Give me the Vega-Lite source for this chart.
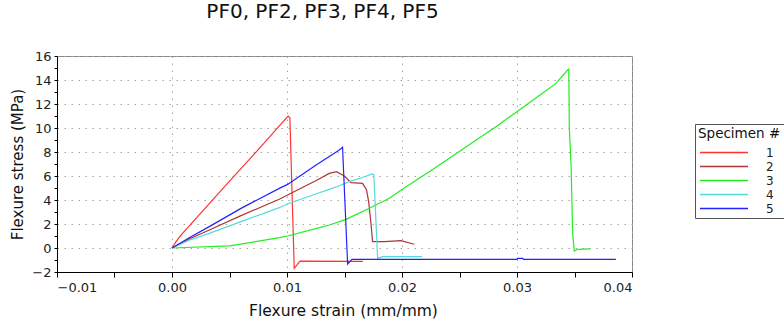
{
  "$schema": "https://vega.github.io/schema/vega-lite/v6.json",
  "width": 575,
  "height": 216,
  "autosize": {"type": "none"},
  "padding": {"left": 57, "top": 56, "right": 152, "bottom": 50},
  "background": "white",
  "title": {"text": "PF0, PF2, PF3, PF4, PF5", "fontSize": 20, "fontWeight": "normal", "font": "DejaVu Sans", "anchor": "middle", "frame": "group", "dx": -22, "offset": 28, "color": "#111"},
  "config": {
    "view": {"stroke": "#888", "strokeWidth": 1},
    "font": "DejaVu Sans"
  },
  "data": {"values": [
    {"s": "1", "i": 0, "x": 0, "y": 0},
    {"s": "1", "i": 1, "x": 0.00035, "y": 0.53},
    {"s": "1", "i": 2, "x": 0.00078, "y": 1.08},
    {"s": "1", "i": 3, "x": 0.0025, "y": 2.9},
    {"s": "1", "i": 4, "x": 0.0051, "y": 5.67},
    {"s": "1", "i": 5, "x": 0.0075, "y": 8.2},
    {"s": "1", "i": 6, "x": 0.01009, "y": 11.0},
    {"s": "1", "i": 7, "x": 0.01025, "y": 10.85},
    {"s": "1", "i": 8, "x": 0.01063, "y": -1.7},
    {"s": "1", "i": 9, "x": 0.01113, "y": -1.1},
    {"s": "1", "i": 10, "x": 0.0166, "y": -1.12},
    {"s": "2", "i": 0, "x": 0, "y": 0},
    {"s": "2", "i": 1, "x": 0.0015, "y": 0.75},
    {"s": "2", "i": 2, "x": 0.00324, "y": 1.5},
    {"s": "2", "i": 3, "x": 0.006, "y": 2.7},
    {"s": "2", "i": 4, "x": 0.00933, "y": 4.06},
    {"s": "2", "i": 5, "x": 0.01005, "y": 4.42},
    {"s": "2", "i": 6, "x": 0.0125, "y": 5.6},
    {"s": "2", "i": 7, "x": 0.01368, "y": 6.22},
    {"s": "2", "i": 8, "x": 0.01431, "y": 6.36},
    {"s": "2", "i": 9, "x": 0.01498, "y": 6.0},
    {"s": "2", "i": 10, "x": 0.01557, "y": 5.44},
    {"s": "2", "i": 11, "x": 0.01657, "y": 5.39},
    {"s": "2", "i": 12, "x": 0.01692, "y": 4.83},
    {"s": "2", "i": 13, "x": 0.0171, "y": 3.86},
    {"s": "2", "i": 14, "x": 0.0173, "y": 2.06},
    {"s": "2", "i": 15, "x": 0.01744, "y": 0.53},
    {"s": "2", "i": 16, "x": 0.01846, "y": 0.53},
    {"s": "2", "i": 17, "x": 0.01991, "y": 0.61},
    {"s": "2", "i": 18, "x": 0.02107, "y": 0.31},
    {"s": "3", "i": 0, "x": 0, "y": 0},
    {"s": "3", "i": 1, "x": 0.005, "y": 0.17},
    {"s": "3", "i": 2, "x": 0.00933, "y": 0.86},
    {"s": "3", "i": 3, "x": 0.01005, "y": 1.0},
    {"s": "3", "i": 4, "x": 0.0125, "y": 1.62},
    {"s": "3", "i": 5, "x": 0.01368, "y": 1.92},
    {"s": "3", "i": 6, "x": 0.01513, "y": 2.39},
    {"s": "3", "i": 7, "x": 0.01716, "y": 3.31},
    {"s": "3", "i": 8, "x": 0.0189, "y": 4.14},
    {"s": "3", "i": 9, "x": 0.02, "y": 4.87},
    {"s": "3", "i": 10, "x": 0.02179, "y": 6.0},
    {"s": "3", "i": 11, "x": 0.02237, "y": 6.36},
    {"s": "3", "i": 12, "x": 0.02527, "y": 8.22},
    {"s": "3", "i": 13, "x": 0.02817, "y": 10.11},
    {"s": "3", "i": 14, "x": 0.0299, "y": 11.3},
    {"s": "3", "i": 15, "x": 0.03194, "y": 12.7},
    {"s": "3", "i": 16, "x": 0.03339, "y": 13.72},
    {"s": "3", "i": 17, "x": 0.0344, "y": 14.83},
    {"s": "3", "i": 18, "x": 0.0345, "y": 14.9},
    {"s": "3", "i": 19, "x": 0.03455, "y": 10.0},
    {"s": "3", "i": 20, "x": 0.0347, "y": 6.9},
    {"s": "3", "i": 21, "x": 0.03484, "y": 1.22},
    {"s": "3", "i": 22, "x": 0.03498, "y": -0.25},
    {"s": "3", "i": 23, "x": 0.03527, "y": -0.11},
    {"s": "3", "i": 24, "x": 0.03635, "y": -0.08},
    {"s": "4", "i": 0, "x": 0, "y": 0},
    {"s": "4", "i": 1, "x": 0.0015, "y": 0.65},
    {"s": "4", "i": 2, "x": 0.00324, "y": 1.22},
    {"s": "4", "i": 3, "x": 0.006, "y": 2.2},
    {"s": "4", "i": 4, "x": 0.00933, "y": 3.36},
    {"s": "4", "i": 5, "x": 0.01005, "y": 3.67},
    {"s": "4", "i": 6, "x": 0.0125, "y": 4.5},
    {"s": "4", "i": 7, "x": 0.01368, "y": 4.89},
    {"s": "4", "i": 8, "x": 0.01455, "y": 5.19},
    {"s": "4", "i": 9, "x": 0.0154, "y": 5.53},
    {"s": "4", "i": 10, "x": 0.0165, "y": 5.85},
    {"s": "4", "i": 11, "x": 0.01739, "y": 6.17},
    {"s": "4", "i": 12, "x": 0.01755, "y": 6.1},
    {"s": "4", "i": 13, "x": 0.01788, "y": -0.86},
    {"s": "4", "i": 14, "x": 0.01832, "y": -0.72},
    {"s": "4", "i": 15, "x": 0.02174, "y": -0.72},
    {"s": "5", "i": 0, "x": 0, "y": 0},
    {"s": "5", "i": 1, "x": 0.0015, "y": 0.85},
    {"s": "5", "i": 2, "x": 0.00324, "y": 1.78},
    {"s": "5", "i": 3, "x": 0.006, "y": 3.3},
    {"s": "5", "i": 4, "x": 0.00933, "y": 4.97},
    {"s": "5", "i": 5, "x": 0.01005, "y": 5.3},
    {"s": "5", "i": 6, "x": 0.0125, "y": 6.9},
    {"s": "5", "i": 7, "x": 0.01455, "y": 8.17},
    {"s": "5", "i": 8, "x": 0.01483, "y": 8.39},
    {"s": "5", "i": 9, "x": 0.01527, "y": -1.33},
    {"s": "5", "i": 10, "x": 0.01565, "y": -0.94},
    {"s": "5", "i": 11, "x": 0.03, "y": -0.94},
    {"s": "5", "i": 12, "x": 0.03005, "y": -0.86},
    {"s": "5", "i": 13, "x": 0.0305, "y": -0.86},
    {"s": "5", "i": 14, "x": 0.03055, "y": -0.94},
    {"s": "5", "i": 15, "x": 0.0386, "y": -0.94}
  ]},
  "mark": {"type": "line", "strokeWidth": 1.2, "clip": true},
  "encoding": {
    "x": {
      "field": "x", "type": "quantitative",
      "scale": {"domain": [-0.01, 0.04], "nice": false, "zero": false},
      "axis": {
        "title": "Flexure strain (mm/mm)",
        "titleFont": "DejaVu Sans", "titleFontSize": 15.5, "titleFontWeight": "normal", "titleColor": "#111",
        "titleX": 286, "titleY": 38, "titleBaseline": "middle",
        "values": [-0.01, -0.005, 0, 0.005, 0.01, 0.015, 0.02, 0.025, 0.03, 0.035, 0.04],
        "labelExpr": "abs(datum.value*100 - round(datum.value*100)) < 0.01 ? format(datum.value, '.2f') : ''",
        "labelFont": "DejaVu Sans", "labelFontSize": 13, "labelColor": "#222",
        "labelPadding": 4, "tickSize": 5, "tickColor": "#000", "domainColor": "#000",
        "grid": true, "gridColor": "#a8a898", "gridDash": [1.5, 5.5], "gridWidth": 1,
        "gridOpacity": {"condition": {"test": "abs(datum.value*100 - round(datum.value*100)) < 0.01", "value": 1}, "value": 0}
      }
    },
    "y": {
      "field": "y", "type": "quantitative",
      "scale": {"domain": [-2, 16], "nice": false, "zero": false},
      "axis": {
        "title": "Flexure stress (MPa)",
        "titleFont": "DejaVu Sans", "titleFontSize": 15, "titleFontWeight": "normal", "titleColor": "#111",
        "titleX": -40, "titleY": 108, "titleBaseline": "middle", "titleAngle": -90, "titleAlign": "center",
        "values": [-2, -1, 0, 1, 2, 3, 4, 5, 6, 7, 8, 9, 10, 11, 12, 13, 14, 15, 16],
        "labelExpr": "datum.value % 2 == 0 ? format(datum.value, 'd') : ''",
        "labelFont": "DejaVu Sans", "labelFontSize": 13, "labelColor": "#222",
        "labelPadding": 3, "tickSize": 3, "tickColor": "#000", "domainColor": "#000",
        "grid": true, "gridColor": "#a8a898", "gridDash": [1.5, 5.5], "gridWidth": 1,
        "gridOpacity": {"condition": {"test": "datum.value % 2 == 0", "value": 1}, "value": 0}
      }
    },
    "color": {
      "field": "s", "type": "nominal",
      "scale": {"domain": ["1", "2", "3", "4", "5"], "range": ["#ff3333", "#b03535", "#22ee22", "#55dada", "#2222ff"]},
      "legend": {
        "title": "Specimen #",
        "orient": "none", "legendX": 638, "legendY": 68,
        "titleFont": "DejaVu Sans", "titleFontSize": 13.5, "titleFontWeight": "normal", "titleColor": "#111", "titlePadding": 6,
        "labelFont": "DejaVu Sans", "labelFontSize": 12, "labelColor": "#222", "labelOffset": 56,
        "symbolType": "M-1,0H11", "symbolSize": 64, "symbolStrokeWidth": 1.5,
        "rowPadding": 2, "padding": 3, "strokeColor": "#555", "fillColor": "white", "cornerRadius": 0
      }
    },
    "order": {"field": "i", "type": "quantitative"}
  }
}
